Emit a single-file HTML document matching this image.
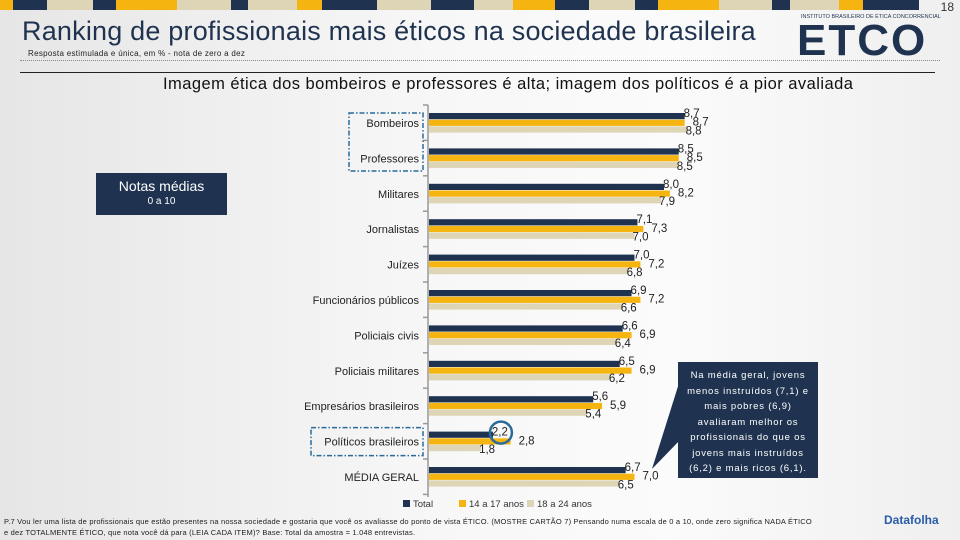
<!DOCTYPE html>
<html><head><meta charset="utf-8">
<style>
body{margin:0;width:960px;height:540px;overflow:hidden;font-family:"Liberation Sans",sans-serif;}
#root{position:relative;width:960px;height:540px;background:linear-gradient(90deg,#e6e6e6 0%,#f7f7f7 45%,#fbfbfb 70%,#efefef 100%);}
.abs{position:absolute;}
</style></head><body>
<div id="root">
<svg id="strip" class="abs" style="left:0;top:0" width="960" height="10"></svg>
<div class="abs" style="right:6px;top:0;font-size:12px;color:#333">18</div>
<div class="abs" style="left:22px;top:16px;font-size:27px;color:#1f3350;letter-spacing:0.2px">Ranking de profissionais mais éticos na sociedade brasileira</div>
<div class="abs" style="left:28px;top:49px;font-size:8px;color:#222;letter-spacing:0.3px">Resposta estimulada e única, em % - nota de zero a dez</div>
<div class="abs" style="left:20px;top:60px;width:920px;border-top:1px dotted #888"></div>
<div class="abs" style="left:20px;top:72px;width:915px;border-top:1px solid #222"></div>
<div class="abs" style="left:801px;top:14px;font-size:5.5px;color:#1f3350">INSTITUTO BRASILEIRO DE ÉTICA CONCORRENCIAL</div>
<div class="abs" style="left:797px;top:16px;font-size:44px;font-weight:bold;color:#1f3350;letter-spacing:2px">ETCO</div>
<div class="abs" style="left:163px;top:75px;font-size:16.5px;color:#111;letter-spacing:0.45px">Imagem ética dos bombeiros e professores é alta; imagem dos políticos é a pior avaliada</div>
<div class="abs" style="left:96px;top:173px;width:131px;height:42px;background:#1f3350;color:#fff;text-align:center"><div style="font-size:14px;margin-top:5px">Notas médias</div><div style="font-size:10px;margin-top:2px">0 a 10</div></div>
<svg id="chart" class="abs" style="left:0;top:0" width="960" height="540"></svg>
<div class="abs" style="left:678px;top:362px;width:140px;height:116px;background:#1f3350;color:#fff;font-size:9.5px;line-height:15.5px;text-align:center;padding:6px 8px 0;box-sizing:border-box;letter-spacing:0.8px">Na média geral, jovens menos instruídos (7,1) e mais pobres (6,9) avaliaram melhor os profissionais do que os jovens mais instruídos (6,2) e mais ricos (6,1).</div>
<div class="abs" style="left:4px;top:516px;width:870px;font-size:7.5px;color:#222;line-height:11px;letter-spacing:0.2px">P.7 Vou ler uma lista de profissionais que estão presentes na nossa sociedade e gostaria que você os avaliasse do ponto de vista ÉTICO. (MOSTRE CARTÃO 7) Pensando numa escala de 0 a 10, onde zero significa NADA ÉTICO<br>e dez TOTALMENTE ÉTICO, que nota você dá para (LEIA CADA ITEM)? Base: Total da amostra = 1.048 entrevistas.</div>
<div class="abs" style="left:884px;top:513px;font-size:12px;font-weight:bold;color:#2a5ba8">Datafolha</div>
</div>
<script>
const categories=["Bombeiros","Professores","Militares","Jornalistas","Juízes","Funcionários públicos","Policiais civis","Policiais militares","Empresários brasileiros","Políticos brasileiros","MÉDIA GERAL"];
const totalValues=[8.7,8.5,8.0,7.1,7.0,6.9,6.6,6.5,5.6,2.2,6.7];
const age1417Values=[8.7,8.5,8.2,7.3,7.2,7.2,6.9,6.9,5.9,2.8,7.0];
const age1824Values=[8.8,8.5,7.9,7.0,6.8,6.6,6.4,6.2,5.4,1.8,6.5];
const seriesNames=["Total","14 a 17 anos","18 a 24 anos"];
const NS="http://www.w3.org/2000/svg";
const colors=["#1f3350","#f5b40f","#ddd5b5"];
const strip=document.getElementById('strip');
const blocks=[[0,13,1],[13,47,0],[47,93,2],[93,116,0],[116,177,1],[177,231,2],[231,248,0],[248,297,2],[297,322,1],[322,377,0],[377,431,2],[431,474,0],[474,513,2],[513,555,1],[555,589,0],[589,635,2],[635,658,0],[658,719,1],[719,772,2],[772,790,0],[790,839,2],[839,863,1],[863,919,0]];
blocks.forEach(b=>{const r=document.createElementNS(NS,'rect');r.setAttribute('x',b[0]);r.setAttribute('y',0);r.setAttribute('width',b[1]-b[0]);r.setAttribute('height',10);r.setAttribute('fill',colors[b[2]]);


strip.appendChild(r);});
const svg=document.getElementById('chart');
const x0=428,scale=29.5,y0=113,step=35.4,bh=6.7;
const xs=v=>x0+v*scale;
function el(t,a){const e=document.createElementNS(NS,t);for(const k in a)e.setAttribute(k,a[k]);svg.appendChild(e);return e;}
let ax=el('line',{x1:x0,y1:105,x2:x0,y2:497,stroke:'#999','stroke-width':1.5});


for(let i=0;i<=categories.length;i++){const t=el('line',{x1:x0-5,x2:x0,y1:105+i*step,y2:105+i*step,stroke:'#999','stroke-width':1.5});

}
const series=[totalValues,age1417Values,age1824Values];
categories.forEach((c,i)=>{
 const gy=y0+i*step;
 const lb=el('text',{x:419,y:gy+14,'text-anchor':'end','font-size':11,fill:'#222'});lb.textContent=c;
 
 
 series.forEach((s,j)=>{
  const r=el('rect',{x:x0+1,y:gy+j*bh,width:xs(s[i])-x0-1,height:bh-0.5,fill:colors[j]});
  
  
  const tx=el('text',{x:xs(s[i])+(j==1?8:j==2?-2:-1),y:gy+j*bh+(j==0?4:j==1?6:8),'text-anchor':'start','font-size':11.5,fill:'#222'});
  tx.textContent=s[i].toFixed(1).replace('.',',');
  
  
 });
});
let b1=el('rect',{x:349,y:113,width:74,height:58,fill:'none',stroke:'#2a6a9a','stroke-width':1.5,'stroke-dasharray':'5,2,1.5,2'});


const py=y0+9*step;
let b2=el('rect',{x:311,y:py-4,width:112,height:28,fill:'none',stroke:'#2a6a9a','stroke-width':1.5,'stroke-dasharray':'5,2,1.5,2'});


let ci=el('circle',{cx:xs(totalValues[9])+8,cy:py+1,r:11,fill:'none',stroke:'#2a6a9a','stroke-width':2.5});


let pt=el('polygon',{points:'680,380 680,440 652,469',fill:'#1f3350'});


const lx=[403,459,527];
seriesNames.forEach((n,j)=>{
 const r=el('rect',{x:lx[j],y:500,width:7,height:7,fill:colors[j]});
 
 
 const t=el('text',{x:lx[j]+10,y:507,'font-size':9.5,fill:'#333'});t.textContent=n;
 
 
});
</script>
</body></html>
